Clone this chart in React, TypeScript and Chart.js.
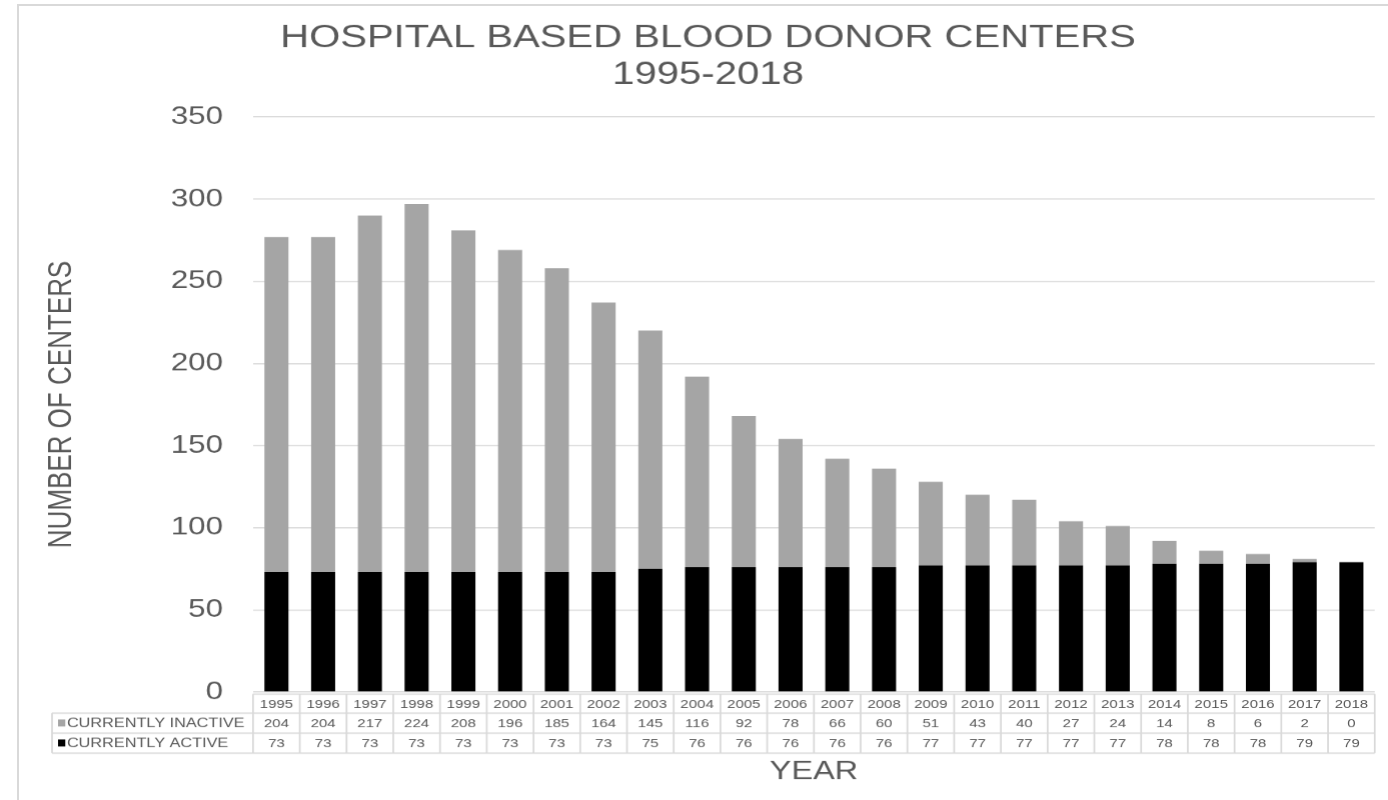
import React, { useEffect, useRef } from "react";
import { Chart, registerables } from "chart.js";

Chart.register(...registerables);

const categories = ["1995","1996","1997","1998","1999","2000","2001","2002","2003","2004","2005","2006","2007","2008","2009","2010","2011","2012","2013","2014","2015","2016","2017","2018"];
const inactiveValues = [204,204,217,224,208,196,185,164,145,116,92,78,66,60,51,43,40,27,24,14,8,6,2,0];
const activeValues = [73,73,73,73,73,73,73,73,75,76,76,76,76,76,77,77,77,77,77,78,78,78,79,79];
const seriesLabels = ["CURRENTLY INACTIVE", "CURRENTLY ACTIVE"];
const titleLines = ["HOSPITAL BASED BLOOD DONOR CENTERS", "1995-2018"];

const FONT = '"Liberation Sans", Arial, sans-serif';
const TEXT = "#595959";
const GRID = "#d9d9d9";
const INACTIVE = "#a5a5a5";
const ACTIVE = "#000000";

const LW = 1110;
const LH = 800;
const SX = 1388 / LW;
const CHART_LEFT = 202.3;
const CHART_RIGHT = 1098.8;
const PAD_L = 33;
const PAD_R = 11;

const tablePlugin = {
  id: "dataTable",
  afterDraw(chart: any) {
    const { ctx, chartArea, scales } = chart;
    const x = scales.x;
    const n = categories.length;
    const cw = (chartArea.right - chartArea.left) / n;
    const r0 = 694, r1 = 713, r2 = 733, r3 = 753;
    const hdrL = 41.6;
    const L = chartArea.left, R = chartArea.right;
    ctx.save();
    ctx.strokeStyle = GRID;
    ctx.lineWidth = 1.4;
    const line = (a: number, b: number, c: number, d: number) => {
      ctx.beginPath(); ctx.moveTo(a, b); ctx.lineTo(c, d); ctx.stroke();
    };
    line(L, r0, R, r0);
    line(hdrL, r1, R, r1);
    line(hdrL, r2, R, r2);
    line(hdrL, r3, R, r3);
    line(hdrL, r1, hdrL, r3);
    for (let i = 0; i <= n; i++) {
      const xb = i < n ? x.getPixelForValue(i) - cw / 2 : x.getPixelForValue(n - 1) + cw / 2;
      line(xb, r0, xb, r3);
    }
    ctx.fillStyle = TEXT;
    ctx.textAlign = "center";
    ctx.textBaseline = "middle";
    ctx.font = `12px ${FONT}`;
    for (let i = 0; i < n; i++) {
      const cx = x.getPixelForValue(i);
      ctx.fillText(categories[i], cx, (r0 + r1) / 2 + 1);
      ctx.fillText(String(inactiveValues[i]), cx, (r1 + r2) / 2 + 1);
      ctx.fillText(String(activeValues[i]), cx, (r2 + r3) / 2 + 1);
    }
    ctx.textAlign = "left";
    ctx.font = `13px ${FONT}`;
    ctx.fillStyle = INACTIVE;
    ctx.fillRect(46.4, (r1 + r2) / 2 - 3.5, 5.8, 7);
    ctx.fillStyle = ACTIVE;
    ctx.fillRect(46.4, (r2 + r3) / 2 - 3.5, 5.8, 7);
    ctx.fillStyle = TEXT;
    ctx.fillText(seriesLabels[0], 53.5, (r1 + r2) / 2 + 1);
    ctx.fillText(seriesLabels[1], 53.5, (r2 + r3) / 2 + 1);
    ctx.restore();
  },
};

export default function App() {
  const canvasRef = useRef<HTMLCanvasElement | null>(null);

  useEffect(() => {
    if (!canvasRef.current) return;
    Chart.defaults.font.family = FONT;
    const chart = new Chart(canvasRef.current, {
      type: "bar",
      data: {
        labels: categories,
        datasets: [
          {
            label: seriesLabels[1],
            data: activeValues,
            backgroundColor: ACTIVE,
            categoryPercentage: 1,
            barPercentage: 0.515,
          },
          {
            label: seriesLabels[0],
            data: inactiveValues,
            backgroundColor: INACTIVE,
            categoryPercentage: 1,
            barPercentage: 0.515,
          },
        ],
      },
      options: {
        animation: false,
        responsive: false,
        devicePixelRatio: 1.25,
        layout: { padding: { left: PAD_L, right: PAD_R, top: 0, bottom: 0 } },
        plugins: {
          legend: { display: false },
          tooltip: { enabled: false },
          title: {
            display: true,
            text: titleLines,
            color: TEXT,
            font: { size: 32, weight: "normal", family: FONT, lineHeight: 1.156 },
            padding: { top: 19.5, bottom: 23.5 },
          },
        },
        scales: {
          x: {
            stacked: true,
            grid: { display: false },
            border: { display: false },
            ticks: { display: false },
            title: {
              display: true,
              text: "YEAR",
              color: TEXT,
              font: { size: 26, family: FONT },
              padding: { top: 0, bottom: 12.4 },
            },
            afterFit(scale: any) {
              scale.height = 108;
            },
          },
          y: {
            stacked: true,
            min: 0,
            max: 350,
            ticks: {
              stepSize: 50,
              color: TEXT,
              font: { size: 25, family: FONT },
              padding: 24,
            },
            grid: { color: GRID, lineWidth: 1.2, drawTicks: false },
            border: { display: false },
            title: {
              display: true,
              text: "NUMBER OF CENTERS",
              color: TEXT,
              font: { size: 26, family: FONT },
              padding: { top: 1, bottom: 0 },
            },
            afterFit(scale: any) {
              scale.width = CHART_LEFT - PAD_L;
            },
          },
        },
      },
      plugins: [tablePlugin],
    });
    return () => chart.destroy();
  }, []);

  return (
    <div style={{ position: "fixed", left: 0, top: 0, width: 1388, height: 800, overflow: "hidden", background: "#fff" }}>
      <div style={{ position: "absolute", left: 17, top: 4, width: 2000, height: 2000, borderTop: `2px solid ${GRID}`, borderLeft: `2px solid ${GRID}` }} />
      <div style={{ position: "absolute", left: 0, top: 0, width: LW, height: LH, transform: `scaleX(${SX})`, transformOrigin: "0 0" }}>
        <canvas ref={canvasRef} width={LW} height={LH} />
      </div>
    </div>
  );
}
